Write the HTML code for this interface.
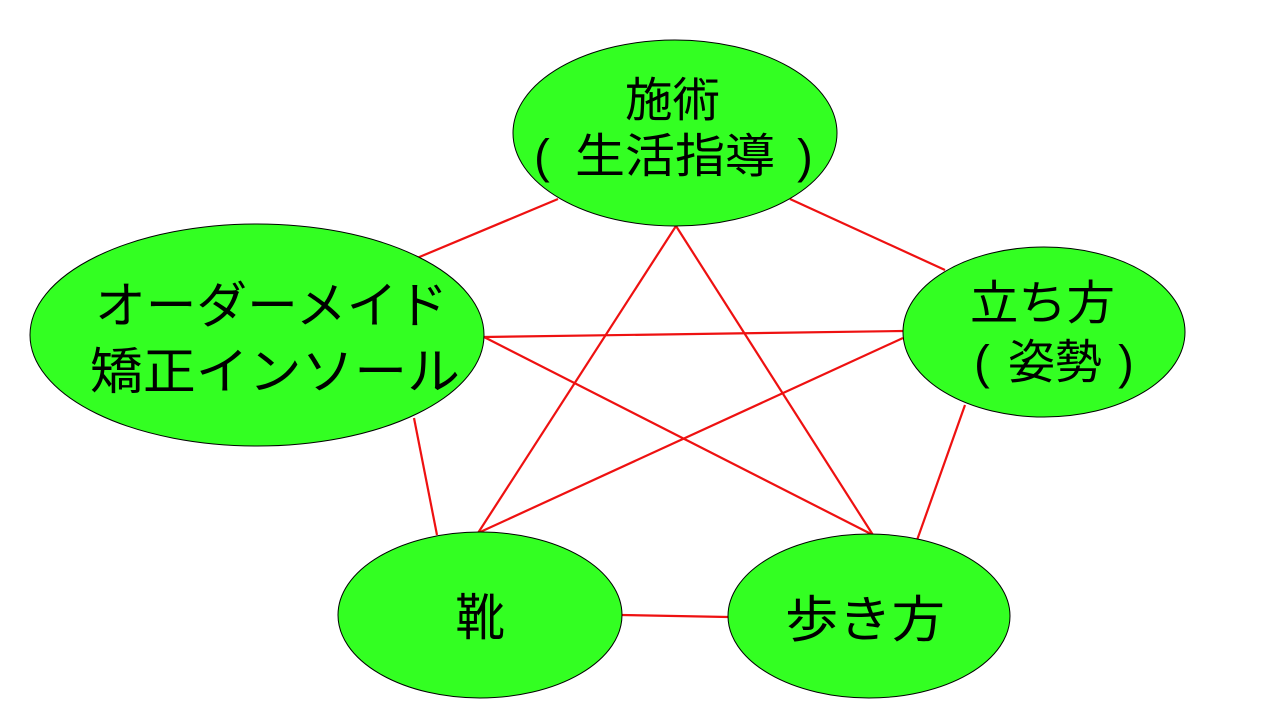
<!DOCTYPE html>
<html><head><meta charset="utf-8"><style>
html,body{margin:0;padding:0;background:#fff;width:1280px;height:720px;overflow:hidden}
text{font-family:"Liberation Sans","Noto Sans CJK JP",sans-serif;fill:#000;dominant-baseline:central}
.m{text-anchor:middle}
</style></head><body>
<svg width="1280" height="720" viewBox="0 0 1280 720">
<g stroke="#ee1111" stroke-width="2.2" fill="none">
<line x1="558" y1="199" x2="417" y2="258"/>
<line x1="790" y1="199" x2="945" y2="270"/>
<line x1="484" y1="337" x2="903" y2="331"/>
<line x1="484" y1="337" x2="873" y2="535"/>
<line x1="676" y1="226" x2="478" y2="533"/>
<line x1="676" y1="226" x2="873" y2="535"/>
<line x1="903" y1="338" x2="478" y2="533"/>
<line x1="414" y1="418" x2="437" y2="535"/>
<line x1="965" y1="405" x2="916" y2="543"/>
<line x1="621" y1="615" x2="728" y2="617"/>
</g>
<g fill="#33ff22" stroke="#000" stroke-width="1">
<ellipse cx="675" cy="133" rx="162" ry="93"/>
<ellipse cx="257" cy="335" rx="227" ry="111"/>
<ellipse cx="1044" cy="332" rx="141" ry="85"/>
<ellipse cx="480" cy="615" rx="142" ry="83"/>
<ellipse cx="869" cy="616" rx="141" ry="82"/>
</g>
<text x="625" y="100" font-size="47" textLength="95" lengthAdjust="spacingAndGlyphs">施術</text>
<text class="m" x="542" y="156" font-size="47">(</text>
<text class="m" x="675" y="156" font-size="47" textLength="200" lengthAdjust="spacingAndGlyphs">生活指導</text>
<text class="m" x="805" y="156" font-size="47">)</text>
<text x="95" y="306" font-size="50" textLength="353" lengthAdjust="spacingAndGlyphs">オーダーメイド</text>
<text x="90" y="372" font-size="50" textLength="370" lengthAdjust="spacingAndGlyphs">矯正インソール</text>
<text x="970" y="303" font-size="47" textLength="145" lengthAdjust="spacingAndGlyphs">立ち方</text>
<text class="m" x="982" y="362" font-size="47">(</text>
<text class="m" x="1055" y="362" font-size="47" textLength="94" lengthAdjust="spacingAndGlyphs">姿勢</text>
<text class="m" x="1126" y="362" font-size="47">)</text>
<text x="455" y="618" font-size="50" textLength="50" lengthAdjust="spacingAndGlyphs">靴</text>
<text x="785" y="620" font-size="50" textLength="160" lengthAdjust="spacingAndGlyphs">歩き方</text>
</svg>
</body></html>
